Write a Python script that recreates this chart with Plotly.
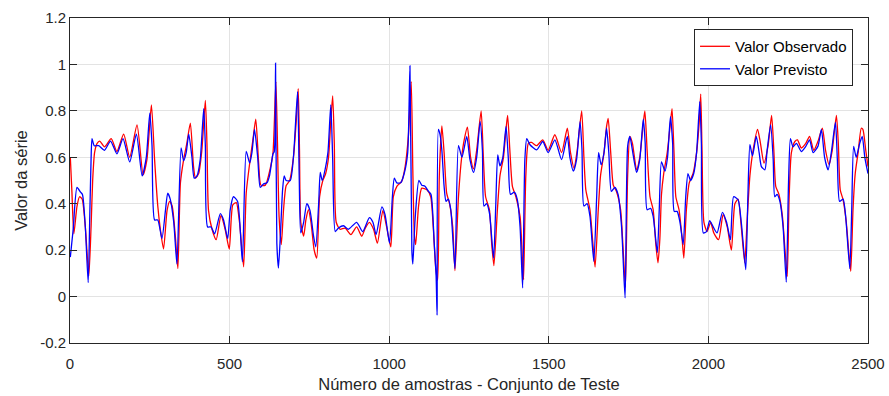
import plotly.graph_objects as go

# ---- Data ----
obs_x = [1, 6, 12, 22, 30, 38, 48, 59, 66, 71, 77, 85, 93, 108, 129, 147, 168, 187, 210, 229, 241, 255, 265, 275,
         283, 293, 304, 312, 320, 330, 338, 346, 356, 366, 377, 387, 393, 403, 413, 424, 429, 434, 445, 458, 473,
         486, 499, 510, 521, 531, 544, 552, 563, 573, 582, 591, 598, 612, 627, 636, 645, 650, 655, 662, 669, 677,
         688, 700, 709, 715, 719, 723, 732, 739, 747, 755, 765, 773, 782, 792, 801, 810, 817, 823, 828, 834, 846,
         862, 880, 898, 914, 925, 938, 951, 963, 980, 992, 1005, 1013, 1024, 1039, 1050, 1060, 1069, 1074, 1079,
         1083, 1092, 1102, 1118, 1130, 1138, 1146, 1152, 1157, 1165, 1172, 1180, 1189, 1199, 1206, 1217, 1227,
         1235, 1245, 1255, 1264, 1274, 1288, 1295, 1302, 1314, 1321, 1328, 1339, 1347, 1358, 1366, 1371, 1378,
         1386, 1397, 1410, 1417, 1421, 1428, 1436, 1446, 1462, 1481, 1498, 1519, 1540, 1558, 1568, 1579, 1589,
         1603, 1610, 1616, 1629, 1638, 1645, 1655, 1662, 1673, 1681, 1686, 1694, 1702, 1712, 1725, 1733, 1740,
         1747, 1754, 1762, 1775, 1785, 1796, 1801, 1808, 1817, 1827, 1835, 1842, 1848, 1853, 1860, 1871, 1879,
         1886, 1892, 1898, 1908, 1917, 1923, 1931, 1940, 1952, 1963, 1971, 1976, 1980, 1986, 1996, 2007, 2017,
         2032, 2046, 2059, 2072, 2083, 2093, 2103, 2114, 2121, 2130, 2140, 2154, 2162, 2174, 2187, 2198, 2205,
         2211, 2221, 2232, 2240, 2247, 2253, 2260, 2271, 2279, 2291, 2305, 2317, 2330, 2343, 2357, 2367, 2378,
         2388, 2401, 2407, 2413, 2422, 2432, 2441, 2446, 2453, 2460, 2469, 2479, 2484, 2493, 2500]
obs_y = [0.60, 0.45, 0.27, 0.39, 0.43, 0.42, 0.30, 0.09, 0.30, 0.50, 0.62, 0.66, 0.67, 0.645, 0.68, 0.625, 0.70,
         0.60, 0.74, 0.525, 0.59, 0.826, 0.59, 0.39, 0.29, 0.205, 0.37, 0.41, 0.39, 0.26, 0.12, 0.49, 0.59, 0.66,
         0.747, 0.56, 0.51, 0.53, 0.63, 0.845, 0.66, 0.37, 0.29, 0.245, 0.35, 0.29, 0.205, 0.395, 0.405, 0.32,
         0.128, 0.445, 0.575, 0.675, 0.764, 0.575, 0.48, 0.48, 0.55, 0.62, 0.926, 0.66, 0.345, 0.224, 0.374,
         0.477, 0.50, 0.60, 0.76, 0.896, 0.63, 0.32, 0.26, 0.33, 0.374, 0.32, 0.20, 0.166, 0.43, 0.50, 0.53, 0.60,
         0.76, 0.864, 0.66, 0.32, 0.29, 0.295, 0.267, 0.30, 0.26, 0.295, 0.32, 0.29, 0.23, 0.37, 0.30, 0.214,
         0.43, 0.475, 0.496, 0.56, 0.69, 0.926, 0.546, 0.26, 0.224, 0.39, 0.467, 0.46, 0.43, 0.30, 0.12, 0.07,
         0.52, 0.735, 0.62, 0.446, 0.40, 0.30, 0.112, 0.43, 0.60, 0.675, 0.73, 0.60, 0.55, 0.63, 0.80, 0.60, 0.43,
         0.374, 0.23, 0.133, 0.374, 0.52, 0.60, 0.72, 0.78, 0.63, 0.475, 0.43, 0.345, 0.17, 0.073, 0.52, 0.66,
         0.664, 0.65, 0.675, 0.63, 0.697, 0.62, 0.725, 0.62, 0.553, 0.63, 0.80, 0.60, 0.46, 0.374, 0.23, 0.127,
         0.374, 0.52, 0.62, 0.733, 0.768, 0.62, 0.48, 0.453, 0.374, 0.20, 0.04, 0.52, 0.69, 0.66, 0.546, 0.60,
         0.747, 0.80, 0.63, 0.43, 0.374, 0.23, 0.145, 0.25, 0.44, 0.53, 0.62, 0.72, 0.81, 0.63, 0.43, 0.374, 0.26,
         0.166, 0.374, 0.49, 0.53, 0.62, 0.747, 0.872, 0.63, 0.32, 0.28, 0.32, 0.274, 0.245, 0.353, 0.30, 0.20,
         0.40, 0.42, 0.30, 0.145, 0.32, 0.52, 0.63, 0.72, 0.67, 0.575, 0.65, 0.78, 0.63, 0.475, 0.44, 0.345, 0.20,
         0.087, 0.43, 0.62, 0.668, 0.675, 0.64, 0.66, 0.69, 0.63, 0.668, 0.725, 0.63, 0.568, 0.63, 0.78, 0.66,
         0.46, 0.417, 0.32, 0.17, 0.109, 0.374, 0.53, 0.62, 0.725, 0.72, 0.63, 0.56]

prev_x = [1, 10, 22, 33, 39, 48, 57, 62, 66, 69, 76, 90, 108, 127, 147, 166, 187, 208, 226, 239, 250, 257, 265,
          275, 288, 299, 306, 314, 325, 335, 348, 356, 364, 372, 382, 389, 398, 408, 419, 424, 431, 442, 453, 471,
          481, 494, 502, 512, 525, 540, 552, 563, 570, 578, 588, 596, 606, 617, 625, 636, 640, 644, 648, 653, 659,
          666, 671, 677, 690, 700, 713, 718, 723, 732, 742, 752, 763, 770, 779, 784, 790, 799, 808, 817, 823, 831,
          841, 857, 872, 898, 917, 938, 949, 959, 977, 987, 1001, 1010, 1016, 1024, 1036, 1047, 1058, 1065, 1071,
          1074, 1081, 1093, 1102, 1112, 1123, 1131, 1141, 1147, 1150, 1154, 1159, 1165, 1172, 1178, 1185, 1193,
          1206, 1217, 1228, 1243, 1253, 1264, 1274, 1285, 1292, 1297, 1305, 1314, 1327, 1334, 1340, 1347, 1356,
          1366, 1373, 1380, 1392, 1401, 1410, 1418, 1425, 1431, 1441, 1462, 1481, 1498, 1519, 1540, 1558, 1566,
          1577, 1587, 1598, 1604, 1610, 1620, 1629, 1641, 1650, 1656, 1664, 1673, 1681, 1688, 1696, 1707, 1717,
          1728, 1739, 1747, 1754, 1762, 1775, 1785, 1796, 1802, 1808, 1819, 1827, 1840, 1846, 1853, 1864, 1872,
          1881, 1888, 1893, 1902, 1911, 1921, 1929, 1936, 1944, 1954, 1963, 1973, 1978, 1984, 1994, 2004, 2015,
          2027, 2044, 2057, 2069, 2079, 2093, 2103, 2117, 2124, 2130, 2138, 2150, 2159, 2166, 2177, 2184, 2195,
          2203, 2208, 2215, 2224, 2234, 2244, 2251, 2257, 2265, 2276, 2291, 2305, 2317, 2328, 2343, 2354, 2364,
          2375, 2385, 2398, 2404, 2411, 2422, 2430, 2443, 2449, 2455, 2463, 2474, 2482, 2490, 2500]
prev_y = [0.17, 0.29, 0.47, 0.45, 0.44, 0.30, 0.06, 0.35, 0.59, 0.68, 0.65, 0.65, 0.63, 0.67, 0.615, 0.68, 0.58,
          0.70, 0.52, 0.60, 0.79, 0.65, 0.33, 0.33, 0.25, 0.37, 0.445, 0.42, 0.32, 0.14, 0.64, 0.585, 0.62, 0.70,
          0.60, 0.51, 0.52, 0.59, 0.81, 0.65, 0.30, 0.30, 0.27, 0.357, 0.33, 0.25, 0.374, 0.43, 0.41, 0.15, 0.625,
          0.575, 0.62, 0.72, 0.60, 0.47, 0.485, 0.49, 0.52, 0.615, 0.625, 1.005, 0.23, 0.123, 0.26, 0.46, 0.52,
          0.50, 0.50, 0.60, 0.883, 0.52, 0.274, 0.32, 0.40, 0.37, 0.26, 0.214, 0.40, 0.535, 0.50, 0.546, 0.62,
          0.826, 0.59, 0.28, 0.295, 0.305, 0.29, 0.32, 0.28, 0.34, 0.32, 0.267, 0.386, 0.353, 0.23, 0.43, 0.51,
          0.49, 0.49, 0.53, 0.62, 0.994, 0.20, 0.14, 0.33, 0.50, 0.48, 0.475, 0.453, 0.44, 0.23, 0.087, -0.08,
          0.72, 0.70, 0.63, 0.475, 0.41, 0.42, 0.374, 0.12, 0.65, 0.60, 0.69, 0.59, 0.535, 0.60, 0.754, 0.63, 0.39,
          0.40, 0.36, 0.166, 0.40, 0.61, 0.563, 0.60, 0.733, 0.60, 0.44, 0.45, 0.42, 0.30, 0.037, 0.59, 0.68,
          0.654, 0.632, 0.668, 0.62, 0.675, 0.59, 0.69, 0.60, 0.54, 0.59, 0.754, 0.63, 0.39, 0.40, 0.345, 0.152,
          0.43, 0.62, 0.568, 0.62, 0.725, 0.62, 0.453, 0.47, 0.44, 0.30, -0.006, 0.647, 0.69, 0.63, 0.535, 0.59,
          0.764, 0.66, 0.374, 0.38, 0.345, 0.19, 0.374, 0.58, 0.54, 0.60, 0.775, 0.66, 0.367, 0.367, 0.32, 0.224,
          0.43, 0.53, 0.50, 0.53, 0.62, 0.84, 0.66, 0.274, 0.28, 0.327, 0.30, 0.274, 0.363, 0.32, 0.245, 0.43,
          0.417, 0.32, 0.116, 0.446, 0.654, 0.606, 0.69, 0.62, 0.56, 0.546, 0.63, 0.74, 0.59, 0.43, 0.44, 0.41,
          0.30, 0.062, 0.49, 0.68, 0.645, 0.66, 0.625, 0.647, 0.675, 0.62, 0.647, 0.72, 0.60, 0.546, 0.62, 0.75,
          0.59, 0.41, 0.42, 0.345, 0.12, 0.374, 0.647, 0.60, 0.66, 0.69, 0.60, 0.53]

x_ticks = [0, 500, 1000, 1500, 2000, 2500]
y_ticks = [-0.2, 0, 0.2, 0.4, 0.6, 0.8, 1, 1.2]
y_tick_labels = ["-0.2", "0", "0.2", "0.4", "0.6", "0.8", "1", "1.2"]

FONT = "Liberation Sans, Arial, sans-serif"
AXC = "#262626"

fig = go.Figure()
fig.add_trace(go.Scatter(x=obs_x, y=obs_y, mode="lines", name="Valor Observado",
                         line=dict(color="#ff0000", width=1.3, shape="spline", smoothing=0.6)))
fig.add_trace(go.Scatter(x=prev_x, y=prev_y, mode="lines", name="Valor Previsto",
                         line=dict(color="#0000ff", width=1.3, shape="spline", smoothing=0.6)))

axis_common = dict(showline=True, linecolor=AXC, linewidth=1, mirror="ticks",
                   ticks="inside", ticklen=7, tickcolor=AXC, tickwidth=1,
                   showgrid=True, gridcolor="#e3e3e3", gridwidth=1, zeroline=False,
                   automargin=False,
                   tickfont=dict(family=FONT, size=15, color=AXC))

fig.update_layout(
    width=889, height=396,
    margin=dict(l=70, r=21, t=18, b=53),
    paper_bgcolor="white", plot_bgcolor="white",
    font=dict(family=FONT, color=AXC),
    showlegend=True,
    legend=dict(x=0.782, y=0.966, xanchor="left", yanchor="top",
                bgcolor="white", bordercolor=AXC, borderwidth=1,
                font=dict(family=FONT, size=15, color="black"),
                tracegroupgap=0, itemwidth=30),
    xaxis=dict(range=[0, 2500], tickmode="array", tickvals=x_ticks,
               ticklabelstandoff=7,
               title=dict(text="Número de amostras - Conjunto de Teste",
                          font=dict(family=FONT, size=16.5, color=AXC), standoff=7),
               **axis_common),
    yaxis=dict(range=[-0.2, 1.2], tickmode="array", tickvals=y_ticks, ticktext=y_tick_labels,
               title=dict(text="Valor da série",
                          font=dict(family=FONT, size=16.5, color=AXC), standoff=8),
               **axis_common),
)

fig.write_html("out.html")
